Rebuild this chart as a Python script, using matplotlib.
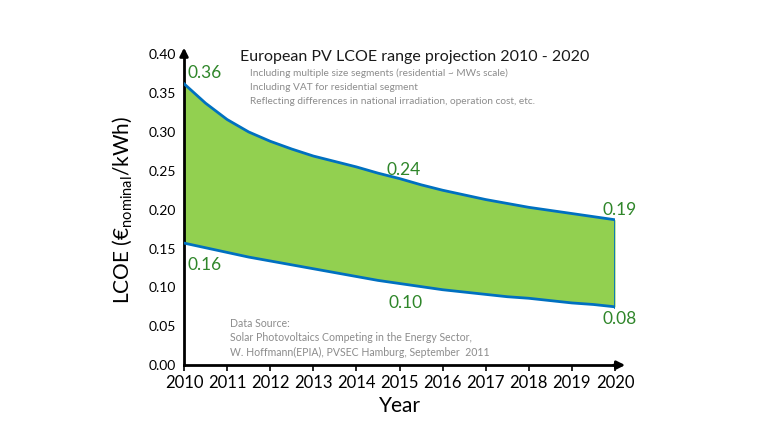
import numpy as np
import matplotlib
matplotlib.use("Agg")
import matplotlib.pyplot as plt
from matplotlib import rcParams

# ==================================
# data (half-year steps)
# ==================================
years = [2010, 2011, 2012, 2013, 2014, 2015, 2016, 2017, 2018, 2019, 2020]
curve_x = [2010, 2010.5, 2011, 2011.5, 2012, 2012.5, 2013, 2013.5, 2014, 2014.5,
           2015, 2015.5, 2016, 2016.5, 2017, 2017.5, 2018, 2018.5, 2019, 2019.5, 2020]
lcoe_high = [0.362, 0.337, 0.316, 0.300, 0.288, 0.278, 0.269, 0.262, 0.255, 0.247,
             0.240, 0.232, 0.225, 0.219, 0.213, 0.208, 0.203, 0.199, 0.195, 0.191, 0.187]
lcoe_low = [0.157, 0.151, 0.145, 0.139, 0.134, 0.129, 0.124, 0.119, 0.114, 0.109,
            0.105, 0.101, 0.097, 0.094, 0.091, 0.088, 0.086, 0.083, 0.080, 0.078, 0.075]

# (x, baseline y, text, ha)
value_labels = [
    (2010.09, 0.369, "0.36", "left"),
    (2015.1, 0.244, "0.24", "center"),
    (2020.1, 0.193, "0.19", "center"),
    (2010.07, 0.122, "0.16", "left"),
    (2015.13, 0.073, "0.10", "center"),
    (2020.1, 0.053, "0.08", "center"),
]
notes = [
    "Including multiple size segments (residential ~ MWs scale)",
    "Including VAT for residential segment",
    "Reflecting differences in national irradiation, operation cost, etc.",
]
source_lines = [
    "Data Source:",
    "Solar Photovoltaics Competing in the Energy Sector,",
    "W. Hoffmann(EPIA), PVSEC Hamburg, September  2011",
]

# ==================================
# style
# ==================================
FILL = "#92D050"
EDGE = "#0070C0"
GREEN = "#2F862A"
GRAY = "#8C8C8C"

rcParams.update({
    "font.family": ["Lato", "DejaVu Sans"],
    "mathtext.fontset": "custom",
    "mathtext.rm": "Lato",
    "mathtext.it": "Lato",
})

fig = plt.figure(figsize=(7.68, 4.48), dpi=100, facecolor="white")
ax = fig.add_axes([0.2396, 0.185, 0.5612, 0.694])

x = np.array(curve_x)
hi = np.array(lcoe_high)
lo = np.array(lcoe_low)

ax.fill_between(x, lo, hi, color=FILL, linewidth=0, zorder=1)
ax.plot(x, hi, color=EDGE, lw=2.0, zorder=3, solid_joinstyle="round")
ax.plot(x, lo, color=EDGE, lw=2.0, zorder=3, solid_joinstyle="round")
ax.plot([x[-1], x[-1]], [lo[-1], hi[-1]], color=EDGE, lw=2.0, zorder=3)

ax.set_xlim(2010, 2020)
ax.set_ylim(0, 0.40)
ax.set_xticks(years)
yt = np.arange(0, 0.401, 0.05)
ax.set_yticks(yt)
ax.set_yticklabels([f"{v:.2f}" for v in yt])

for s in ["top", "right"]:
    ax.spines[s].set_visible(False)
for s in ["left", "bottom"]:
    ax.spines[s].set_linewidth(2.0)
    ax.spines[s].set_color("black")

# axis arrows
ax.annotate("", xy=(1.03, 0), xytext=(0.99, 0), xycoords="axes fraction",
            arrowprops=dict(arrowstyle="-|>", color="black", lw=2.0,
                            mutation_scale=12), annotation_clip=False)
ax.annotate("", xy=(0, 1.03), xytext=(0, 0.99), xycoords="axes fraction",
            arrowprops=dict(arrowstyle="-|>", color="black", lw=2.0,
                            mutation_scale=12), annotation_clip=False)

ax.tick_params(axis="x", length=4, width=1.2, direction="out", labelsize=12, pad=3)
ax.tick_params(axis="y", length=0, labelsize=10, pad=6)

ax.set_xlabel("Year", fontsize=15, labelpad=4)
ax.set_ylabel("LCOE (€$_{\\mathrm{nominal}}$/kWh)", fontsize=15, labelpad=10)

for px, py, txt, ha in value_labels:
    ax.text(px, py, txt, color=GREEN, fontsize=12.5, ha=ha, va="baseline",
            zorder=5)

fig.text(0.54, 0.872, "European PV LCOE range projection 2010 - 2020",
         fontsize=11.5, ha="center", va="center", color="#1a1a1a")
for i, line in enumerate(notes):
    fig.text(0.326, 0.837 - i * 0.032, line, fontsize=7.3, color=GRAY,
             ha="left", va="center")
for i, line in enumerate(source_lines):
    fig.text(0.3, 0.278 - i * 0.032, line, fontsize=7.6, color=GRAY,
             ha="left", va="center")

fig.savefig("out.png", dpi=100, facecolor="white")
